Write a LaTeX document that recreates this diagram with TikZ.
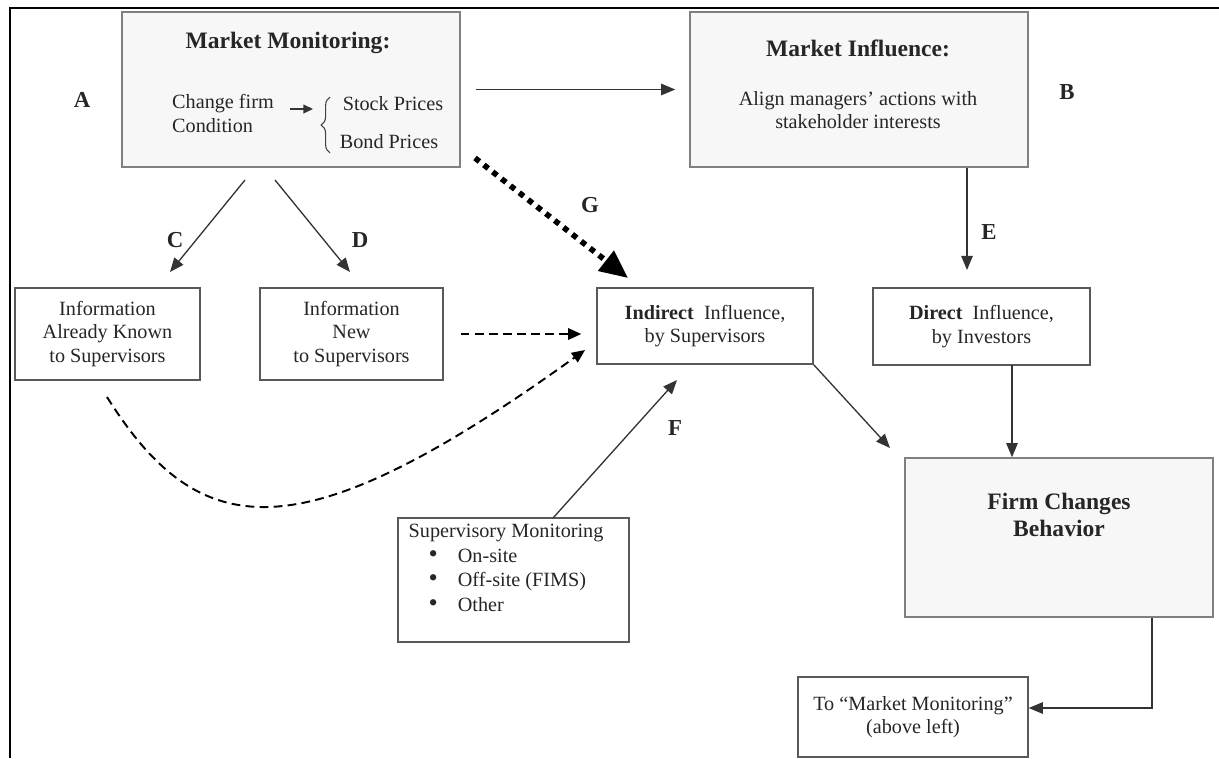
\documentclass[tikz,border=0pt]{standalone}
\usepackage{fontspec}
\setmainfont{Liberation Serif}
\usetikzlibrary{arrows.meta,decorations.pathreplacing,positioning}

\begin{document}
\begin{tikzpicture}[x=0.02cm,y=-0.02cm,
    every node/.style={font=\fontsize{11.5}{13.4}\selectfont,text=black!85,align=center},
    shaded/.style={draw=black!50,line width=0.9pt,fill=black!3,inner sep=0pt},
    plain/.style={draw=black!65,line width=0.8pt,fill=white,inner sep=0pt},
    heading/.style={font=\fontsize{13.4}{15.6}\selectfont\bfseries},
    letter/.style={font=\fontsize{13}{15}\selectfont\bfseries},
    arr/.style={draw=black!80,line width=0.75pt,-{Triangle[length=8pt,width=6.5pt]}},
    dasharr/.style={draw=black,line width=1.1pt,dash pattern=on 5pt off 3pt,-{Triangle[length=7.5pt,width=6.5pt]}},
    dotarr/.style={draw=black,line width=3.2pt,dash pattern=on 3.2pt off 3.2pt,-{Triangle[length=16pt,width=14pt]}}]
  \useasboundingbox (0,0) rectangle (1219,758);
  % frame
  \draw[line width=1.1pt] (1219,8) -- (10,8) -- (10,758);

  % market monitoring
  \node[shaded,minimum width=6.76cm,minimum height=3.1cm] (mm) at (291,89.5) {};
  \node[heading] (mmtitle) at (288,43) {Market Monitoring:};
  \node[anchor=west,align=left] (change) at (166,113.5) {Change firm\\Condition};
  \node (stock) at (393,104) {Stock Prices};
  \node (bond) at (389,142) {Bond Prices};
  \coordinate (cf1) at (290,109);
  \coordinate (cf2) at (313,109);
  \draw[arr,-{Triangle[length=5.5pt,width=5pt]}] (cf1) -- (cf2);
  \coordinate (br1) at (330,153);
  \coordinate (br2) at (330,97);
  \draw[black!75,line width=0.6pt,decorate,decoration={brace,amplitude=5pt}] (br1) -- (br2);

  % market influence
  \node[shaded,minimum width=6.76cm,minimum height=3.1cm] (mi) at (859,89.5) {};
  \node[heading] (mititle) at (858,48) {Market Influence:};
  \node (align) at (858,110) {Align managers' actions with\\stakeholder interests};

  % middle row
  \node[plain,minimum width=3.7cm,minimum height=1.84cm] (known) at (107.5,334)
    {Information\\Already Known\\to Supervisors};
  \node[plain,minimum width=3.66cm,minimum height=1.84cm] (new) at (351.5,334)
    {Information\\New\\to Supervisors};
  \node[plain,minimum width=4.32cm,minimum height=1.52cm] (ind) at (705,326)
    {\textbf{Indirect}~ Influence,\\by Supervisors};
  \node[plain,minimum width=4.34cm,minimum height=1.54cm] (dir) at (981.5,326.5)
    {\textbf{Direct}~ Influence,\\by Investors};

  % bottom
  \node[plain,minimum width=4.62cm,minimum height=2.48cm] (sup) at (513.5,580) {};
  \node[anchor=north west,align=left,inner sep=0pt,font=\fontsize{11.5}{14.2}\selectfont,
    below right=0.12cm and 0.22cm of sup.north west] (suptext)
    {Supervisory Monitoring\\
     \hspace{0.4cm}\smash{\fontsize{15}{14}\selectfont\textbullet}\hspace{0.4cm}On-site\\
     \hspace{0.4cm}\smash{\fontsize{15}{14}\selectfont\textbullet}\hspace{0.4cm}Off-site (FIMS)\\
     \hspace{0.4cm}\smash{\fontsize{15}{14}\selectfont\textbullet}\hspace{0.4cm}Other};
  \node[shaded,minimum width=6.16cm,minimum height=3.18cm] (firm) at (1059,537.5) {};
  \node[heading] (firmtitle) at (1059,515) {Firm Changes\\Behavior};
  \node[plain,minimum width=4.6cm,minimum height=1.6cm] (tomm) at (913,717)
    {To ``Market Monitoring''\\(above left)};

  % letters
  \node[letter] (la) at (82,100) {A};
  \node[letter] (lb) at (1067,92) {B};
  \node[letter] (lc) at (175,240) {C};
  \node[letter] (ld) at (360,240) {D};
  \node[letter] (le) at (989,232) {E};
  \node[letter] (lf) at (675,428) {F};
  \node[letter] (lg) at (590,205) {G};

  % connectors
  \coordinate (cfrom) at (245,180);
  \coordinate (cto) at (170,272);
  \coordinate (dfrom) at (275,180);
  \coordinate (dto) at (350,272);
  \coordinate (gfrom) at (475,158);
  \coordinate (gto) at (628,278);
  \coordinate (eto) at (967,270);
  \coordinate (dirout) at (1012,365);
  \coordinate (indto) at (890,448);
  \coordinate (curvefrom) at (107,397);
  \coordinate (curveto) at (585,350);
  \coordinate (fout) at (553,518);
  \coordinate (fto) at (677,380);
  \coordinate (turn) at (1152,708);

  \draw[arr,shorten <=0.3cm,shorten >=0.28cm] (mm) -- (mi);
  \draw[arr] (cfrom) -- (cto);
  \draw[arr] (dfrom) -- (dto);
  \draw[dotarr] (gfrom) -- (gto);
  \draw[arr] (eto |- mi.south) -- (eto);
  \draw[arr] (dirout) -- (dirout |- firm.north);
  \draw[arr] (ind.south east) -- (indto);
  \draw[dasharr,shorten <=0.34cm,shorten >=0.3cm] (new.east) -- (new.east -| ind.west);
  \draw[dasharr] (curvefrom) .. controls (200,545) and (300,555) .. (curveto);
  \draw[arr] (fout) -- (fto);
  \draw[arr] (turn |- firm.south) -- (turn) -- (turn -| tomm.east);
\end{tikzpicture}
\end{document}
